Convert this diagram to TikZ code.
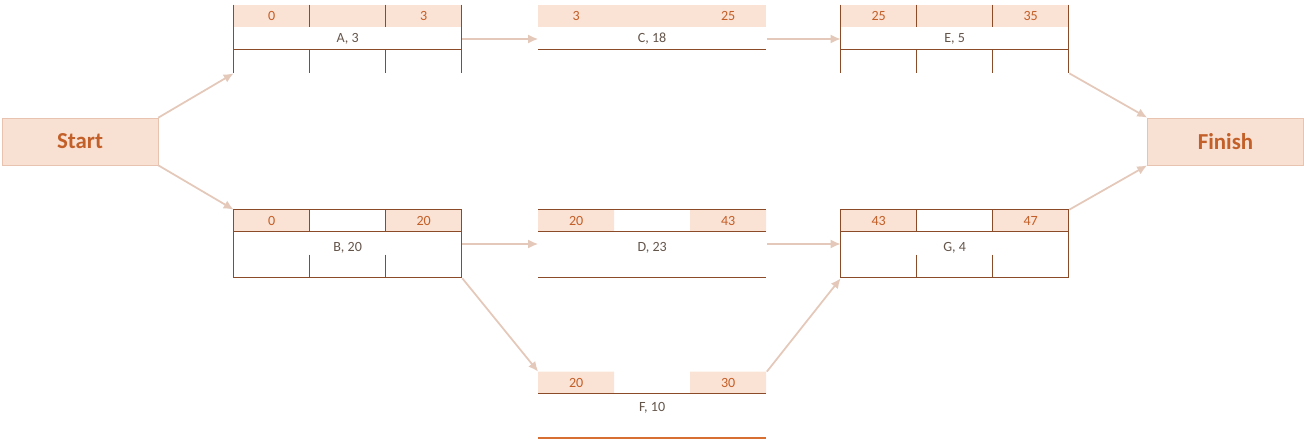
\documentclass[tikz,border=0pt]{standalone}
\usepackage{fontspec}
\setmainfont{Carlito}
\usetikzlibrary{arrows.meta, positioning}
\definecolor{cellpeach}{RGB}{250,226,212}
\definecolor{boxline}{RGB}{140,75,40}
\definecolor{numtext}{RGB}{195,95,40}
\definecolor{lbltext}{RGB}{100,85,75}
\definecolor{arrowc}{RGB}{228,200,185}
\definecolor{endfill}{RGB}{248,224,210}
\definecolor{endline}{RGB}{232,195,175}
\definecolor{fline}{RGB}{215,110,50}

\begin{document}
\begin{tikzpicture}[x=0.02cm,y=-0.02cm,font=\fontsize{8}{9}\selectfont,endbox/.style={draw=endline,fill=endfill,minimum width=3.12cm,minimum height=0.94cm,inner sep=0,text=numtext,font=\fontsize{13}{15}\selectfont\bfseries},frame/.style={minimum width=4.56cm,minimum height=1.36cm,inner sep=0},rule/.style={draw=boxline,line width=0.85pt},cell/.style={fill=cellpeach},num/.style={text=numtext},lbl/.style={text=lbltext},arrow/.style={draw=arrowc,line width=1pt,-{Latex[length=2mm,width=1.8mm]}}]
\useasboundingbox (0,0) rectangle (1304,442);
\node[endbox] (start) at (80,141.5){Start};
\node[endbox] (finish) at (1225.5,141.5){Finish};
\node[frame] (A) at (348,39){};
\node[frame] (C) at (652.5,39){};
\node[frame] (E) at (955,39){};
\node[frame] (B) at (348,244){};
\node[frame] (D) at (652.5,244){};
\node[frame] (G) at (955,244){};
\node[frame] (F) at (652.5,406){};
% top row: open boxes
\begin{scope}[shift={(A.north west)}]
\fill[cell] (0,0) rectangle (228,22);
\draw[rule] (0,0) -- (0,68) (228,0) -- (228,68) (0,45) -- (228,45) (76,0) -- (76,22) (152,0) -- (152,22) (76,45) -- (76,68) (152,45) -- (152,68);
\node[num] (A-es) at (38,11){0}; \node[num] (A-ef) at (190,11){3}; \node[lbl] (A-name) at (114,34){A, 3};
\end{scope}
\begin{scope}[shift={(C.north west)}]
\fill[cell] (0,0) rectangle (228,22);
\draw[rule] (0,45) -- (228,45);
\node[num] (C-es) at (38,11){3}; \node[num] (C-ef) at (190,11){25}; \node[lbl] (C-name) at (114,34){C, 18};
\end{scope}
\begin{scope}[shift={(E.north west)}]
\fill[cell] (0,0) rectangle (228,22);
\draw[rule] (0,0) -- (0,68) (228,0) -- (228,68) (0,45) -- (228,45) (76,0) -- (76,22) (152,0) -- (152,22) (76,45) -- (76,68) (152,45) -- (152,68);
\node[num] (E-es) at (38,11){25}; \node[num] (E-ef) at (190,11){35}; \node[lbl] (E-name) at (114,34){E, 5};
\end{scope}
% middle row
\begin{scope}[shift={(B.north west)}]
\fill[cell] (0,0) rectangle (76,22) (152,0) rectangle (228,22);
\draw[rule] (0,0) rectangle (228,68) (0,22) -- (228,22) (76,0) -- (76,22) (152,0) -- (152,22) (76,45) -- (76,68) (152,45) -- (152,68);
\node[num] (B-es) at (38,11){0}; \node[num] (B-ef) at (190,11){20}; \node[lbl] (B-name) at (114,38){B, 20};
\end{scope}
\begin{scope}[shift={(D.north west)}]
\fill[cell] (0,0) rectangle (76,22) (152,0) rectangle (228,22);
\draw[rule] (0,0) -- (228,0) (0,22) -- (228,22) (0,68) -- (228,68);
\node[num] (D-es) at (38,11){20}; \node[num] (D-ef) at (190,11){43}; \node[lbl] (D-name) at (114,38){D, 23};
\end{scope}
\begin{scope}[shift={(G.north west)}]
\fill[cell] (0,0) rectangle (76,22) (152,0) rectangle (228,22);
\draw[rule] (0,0) rectangle (228,68) (0,22) -- (228,22) (76,0) -- (76,22) (152,0) -- (152,22) (76,45) -- (76,68) (152,45) -- (152,68);
\node[num] (G-es) at (38,11){43}; \node[num] (G-ef) at (190,11){47}; \node[lbl] (G-name) at (114,38){G, 4};
\end{scope}
% bottom row
\begin{scope}[shift={(F.north west)}]
\fill[cell] (0,0) rectangle (76,22) (152,0) rectangle (228,22);
\draw[rule] (0,22) -- (228,22);
\draw[fline,line width=1.2pt] (0,66) -- (228,66);
\node[num] (F-es) at (38,11){20}; \node[num] (F-ef) at (190,11){30}; \node[lbl] (F-name) at (114,36){F, 10};
\end{scope}
\draw[arrow] (start.north east) -- (A.south west);
\draw[arrow] (start.south east) -- (B.north west);
\draw[arrow] (A.east) -- (C.west); \draw[arrow] (C.east) -- (E.west);
\draw[arrow] (E.south east) -- (finish.north west);
\draw[arrow] (B.east) -- (D.west); \draw[arrow] (D.east) -- (G.west);
\draw[arrow] (B.south east) -- (F.north west);
\draw[arrow] (F.north east) -- (G.south west);
\draw[arrow] (G.north east) -- (finish.south west);
\end{tikzpicture}
\end{document}
